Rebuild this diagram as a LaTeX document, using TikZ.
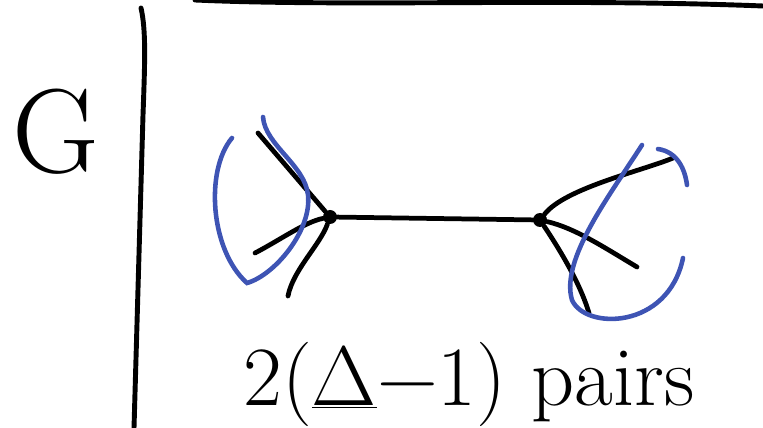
\documentclass[tikz,border=0pt]{standalone}
\usepackage{fontspec}
\usepackage{tikz}

\definecolor{penblue}{RGB}{62,84,180}

\begin{document}
\begin{tikzpicture}[x=0.02cm, y=-0.02cm,
        vertex/.style={circle, fill=black, inner sep=0pt, minimum size=0.28cm},
        edgeline/.style={black, line width=2.7pt, line cap=round},
        border/.style={black, line width=2.8pt, line cap=round},
        ring/.style={penblue, line width=2.6pt, line cap=round},
        caption/.style={inner sep=0pt, font=\fontsize{48}{52}\selectfont}
    ]
    \useasboundingbox (0,0) rectangle (763,428);
    \draw[border] (141,8) .. controls (146,30) and (145,60) .. (143,115) -- (134,428);
    \draw[border] (195,0) .. controls (350,7) and (560,-2) .. (763,6);
    \node[caption, font=\fontsize{68}{68}\selectfont] (gname) at (56,132) {G};
    \node[vertex] (u) at (330,217) {};
    \node[vertex] (v) at (540,220) {};
    \coordinate (a1) at (258,133);
    \coordinate (a2) at (255,253);
    \coordinate (a3) at (288,296);
    \coordinate (b1) at (673,158);
    \coordinate (b2) at (637,267);
    \coordinate (b3) at (589,313);
    \draw[edgeline] (u) -- (v);
    \draw[edgeline] (u) -- (a1);
    \draw[edgeline] (u) .. controls (305,222) and (280,240) .. (a2);
    \draw[edgeline] (u) .. controls (320,245) and (293,270) .. (a3);
    \draw[edgeline] (v) .. controls (565,188) and (645,170) .. (b1);
    \draw[edgeline] (v) .. controls (575,228) and (605,248) .. (b2);
    \draw[edgeline] (v) .. controls (568,262) and (582,290) .. (b3);
    \draw[ring] (232,138) .. controls (205,170) and (210,250) .. (247,283)
        .. controls (275,275) and (312,230) .. (308,195)
        .. controls (305,165) and (265,145) .. (263,117);
    \draw[ring] (642,145) .. controls (610,195) and (560,260) .. (572,300)
        .. controls (585,330) and (668,330) .. (683,258);
    \draw[ring] (658,149) .. controls (678,152) and (685,170) .. (687,185);
    \node[caption, anchor=base west] (count) at (243,405) {2(\underline{Δ}−1) pairs};
\end{tikzpicture}
\end{document}
